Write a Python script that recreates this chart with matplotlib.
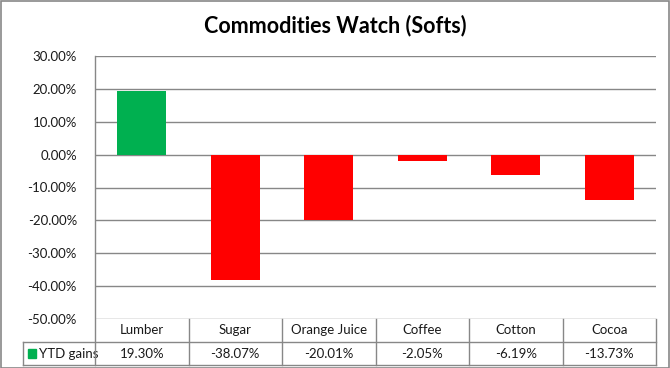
import matplotlib as mpl
import matplotlib.pyplot as plt
import matplotlib.transforms as mtransforms
from matplotlib.patches import Rectangle
import numpy as np

mpl.rcParams["font.family"] = ["Lato", "DejaVu Sans"]

# data
categories = ["Lumber", "Sugar", "Orange Juice", "Coffee", "Cotton", "Cocoa"]
ytd_gains = [19.30, -38.07, -20.01, -2.05, -6.19, -13.73]
series_name = "YTD gains"
title = "Commodities Watch (Softs)"

GREEN = "#00B050"
RED = "#FF0000"
GRID = "#878787"
TXT = "#1a1a1a"

W, H = 670, 368
fig = plt.figure(figsize=(W / 100, H / 100), dpi=100)

# plot area in pixels
left, right, top, bottom = 95, 656, 56, 319
ax = fig.add_axes([left / W, 1 - bottom / H, (right - left) / W, (bottom - top) / H])

x = np.arange(len(categories))
vals = np.array(ytd_gains)
colors = [GREEN if v >= 0 else RED for v in vals]
ax.bar(x, vals, width=0.52, color=colors, zorder=3)

ax.set_xlim(-0.5, len(categories) - 0.5)
ax.set_ylim(-50, 30)
yt = np.arange(-50, 31, 10)
ax.set_yticks(yt)
ax.set_yticklabels([f"{t:.2f}%" for t in yt], color=TXT, fontsize=9.5)
ax.tick_params(axis="y", length=0, pad=13)
ax.set_xticks([])
ax.yaxis.grid(True, color=GRID, linewidth=1.0, zorder=0)
for s in ["top", "right", "bottom", "left"]:
    ax.spines[s].set_visible(False)

# data table drawn under the plot (x in data units, y in axes units)
trans = mtransforms.blended_transform_factory(ax.transData, ax.transAxes)
ph = bottom - top
y_mid = -(342 - bottom) / ph
y_bot = -(365 - bottom) / ph
x_lab = -0.5 - (left - 23) / ((right - left) / len(categories))
x_end = len(categories) - 0.5
line_kw = dict(color=GRID, linewidth=1.0, clip_on=False, transform=trans, zorder=4)

ax.plot([-0.5, -0.5], [1, y_bot], **line_kw)
ax.plot([x_lab, x_end], [y_mid, y_mid], **line_kw)
ax.plot([x_lab, x_end], [y_bot, y_bot], **line_kw)
ax.plot([x_lab, x_lab], [y_mid, y_bot], **line_kw)
for k in range(len(categories)):
    ax.plot([k + 0.5, k + 0.5], [0, y_bot], **line_kw)

for i, (c, v) in enumerate(zip(categories, ytd_gains)):
    ax.text(i, y_mid / 2, c, ha="center", va="center", fontsize=9.5,
            color=TXT, transform=trans, clip_on=False)
    ax.text(i, (y_mid + y_bot) / 2, f"{v:.2f}%", ha="center", va="center",
            fontsize=9.5, color=TXT, transform=trans, clip_on=False)
ax.text(x_lab + 0.17, (y_mid + y_bot) / 2, series_name, ha="left", va="center",
        fontsize=9.5, color=TXT, transform=trans, clip_on=False)
# legend key
ax.add_patch(Rectangle((x_lab + 0.05, (y_mid + y_bot) / 2 - 0.017), 0.09, 0.034,
                       color=GREEN, transform=trans, clip_on=False, zorder=4))

fig.text(0.5, 1 - 26 / H, title, ha="center", va="center",
         fontsize=15.5, fontweight="bold", color="black")

# outer chart border
fig.patches.append(Rectangle((0.5 / W, 0.5 / H), 1 - 1.5 / W, 1 - 1.5 / H,
                             transform=fig.transFigure, fill=False,
                             edgecolor=GRID, linewidth=1.2, figure=fig))

fig.savefig("out.png", dpi=100)
